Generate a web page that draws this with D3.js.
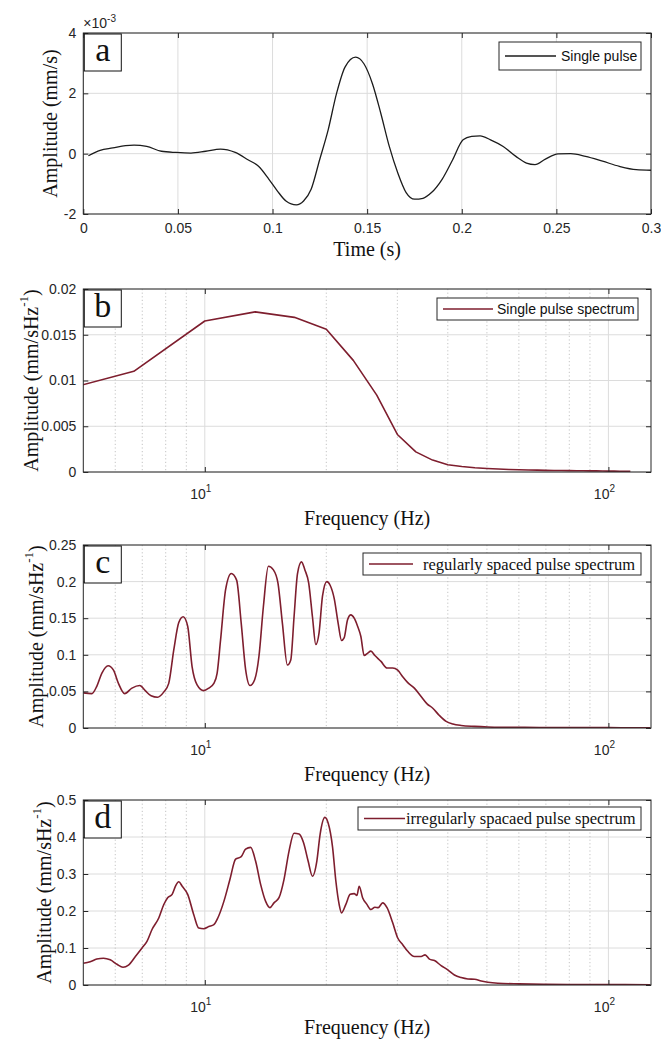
<!DOCTYPE html>
<html><head><meta charset="utf-8">
<script src="https://cdn.jsdelivr.net/npm/d3@7"></script>
<style>body{margin:0;background:#fff;overflow:hidden}</style>
</head><body>
<script>
// ---------------- DATA ----------------
const timeS=[0.0027,0.0089,0.0156,0.0223,0.0268,0.0335,0.0413,0.049,0.0569,0.0647,0.0725,0.0803,0.087,0.0926,0.0981,0.1026,0.1071,0.1126,0.1164,0.1204,0.1249,0.1294,0.1338,0.1383,0.1439,0.1483,0.1528,0.1572,0.1617,0.1662,0.1706,0.1751,0.1795,0.184,0.1896,0.1952,0.2007,0.2052,0.2097,0.2152,0.2219,0.2286,0.2342,0.2387,0.2442,0.2509,0.2576,0.2654,0.2744,0.2833,0.2922,0.3];
const pulseAmp=[-0.07,0.11,0.19,0.27,0.285,0.24,0.08,0.04,0.02,0.08,0.15,0.04,-0.2,-0.42,-0.85,-1.24,-1.57,-1.70,-1.57,-1.18,-0.2,0.79,1.99,2.87,3.2,2.98,2.32,1.34,0.24,-0.64,-1.29,-1.51,-1.48,-1.29,-0.85,-0.2,0.46,0.57,0.59,0.46,0.24,-0.09,-0.31,-0.36,-0.18,-0.01,0.0,-0.09,-0.25,-0.42,-0.53,-0.55];

const freqB=[3.33,6.67,10,13.33,16.67,20,23.33,26.67,30,33.33,36.67,40,43.33,46.67,50,53.33,56.67,60,63.33,66.67,70,73.33,76.67,80,83.33,86.67,90,93.33,96.67,100,103.33,106.67,110,113.33];
const ampB=[0.0075,0.0110,0.0165,0.0175,0.0169,0.0156,0.0122,0.0084,0.0041,0.0022,0.0013,0.0008,0.0006,0.00047,0.00038,0.00032,0.00028,0.00025,0.00022,0.0002,0.00018,0.00017,0.00016,0.00015,0.00014,0.00013,0.00012,0.00012,0.00011,0.0001,0.0001,0.00009,0.00009,0.00008];

const freqC=[5.0,5.25,5.40,5.56,5.76,5.94,6.11,6.33,6.60,6.90,7.12,7.36,7.64,7.91,8.14,8.38,8.62,8.84,9.07,9.30,9.57,9.94,10.23,10.53,10.73,10.94,11.26,11.63,11.99,12.31,12.62,12.94,13.29,13.62,13.97,14.37,14.79,15.18,15.57,16.02,16.33,16.64,16.97,17.36,17.70,18.09,18.48,18.84,19.19,19.57,20.06,20.44,20.92,21.40,21.82,22.14,22.58,23.01,23.45,23.91,24.36,24.82,25.31,25.79,26.39,27.32,28.28,29.21,30.06,30.93,31.83,33.05,34.35,35.54,36.72,38.13,39.62,41.18,43.17,46.58,50.28,54.26,62,70,80,90,100,110,127];
const ampC=[0.048,0.047,0.057,0.075,0.085,0.079,0.061,0.047,0.0545,0.058,0.051,0.044,0.042,0.049,0.061,0.107,0.144,0.152,0.139,0.084,0.059,0.051,0.0545,0.061,0.075,0.120,0.189,0.211,0.202,0.143,0.080,0.058,0.066,0.098,0.166,0.221,0.216,0.198,0.143,0.086,0.093,0.152,0.211,0.227,0.216,0.198,0.152,0.114,0.130,0.180,0.200,0.195,0.177,0.143,0.1195,0.123,0.148,0.1545,0.150,0.139,0.125,0.099,0.102,0.105,0.099,0.091,0.082,0.082,0.079,0.070,0.062,0.0545,0.043,0.033,0.027,0.017,0.009,0.0055,0.0035,0.0022,0.0014,0.0010,0.0008,0.0007,0.0006,0.0005,0.0005,0.0004,0.0004];

const freqD=[5.0,5.20,5.40,5.61,5.83,6.06,6.27,6.47,6.73,6.99,7.19,7.40,7.69,7.91,8.09,8.30,8.46,8.62,8.79,9.07,9.39,9.66,9.94,10.23,10.53,10.77,11.15,11.54,11.92,12.31,12.62,12.99,13.36,13.75,14.15,14.50,14.84,15.27,15.71,16.17,16.64,17.12,17.56,18.03,18.48,18.95,19.31,19.84,20.22,20.73,21.12,21.52,21.82,22.36,22.92,23.45,23.81,24.13,24.60,25.21,25.79,26.39,26.90,27.58,28.28,29.21,30.06,30.93,31.83,33.05,34.35,35.14,36.02,37.07,38.50,40.00,41.54,43.17,44.87,46.58,48.40,50.28,53.24,60,70,80,90,100,110,127];
const ampD=[0.059,0.063,0.070,0.0725,0.068,0.056,0.048,0.054,0.077,0.100,0.118,0.150,0.181,0.217,0.236,0.245,0.267,0.279,0.267,0.245,0.190,0.154,0.152,0.158,0.163,0.181,0.226,0.285,0.340,0.347,0.367,0.372,0.335,0.272,0.226,0.209,0.222,0.236,0.285,0.362,0.410,0.408,0.385,0.335,0.294,0.335,0.408,0.453,0.437,0.372,0.281,0.218,0.195,0.218,0.245,0.247,0.242,0.267,0.236,0.218,0.204,0.210,0.209,0.222,0.209,0.168,0.127,0.109,0.091,0.077,0.077,0.0815,0.070,0.066,0.0525,0.041,0.027,0.020,0.0163,0.0155,0.011,0.0073,0.0046,0.003,0.002,0.0015,0.0012,0.001,0.0009,0.0008];

const aXTicks=[0,0.05,0.1,0.15,0.2,0.25,0.3];
const aYTicks=[-2,0,2,4];
const bYTicks=[0,0.005,0.01,0.015,0.02];
const cYTicks=[0,0.05,0.1,0.15,0.2,0.25];
const dYTicks=[0,0.1,0.2,0.3,0.4,0.5];
const logMajorTicks=[10,100];
const logMinorTicks=[6,7,8,9,20,30,40,50,60,70,80,90];
const legendNames=["Single pulse","Single pulse spectrum","regularly spaced pulse spectrum","irregularly spacaed pulse spectrum"];
const panelLetters=["a","b","c","d"];

// ---------------- LAYOUT ----------------
const W=661,H=1040;
const L=83.3,R=651;
const SANS="'Liberation Sans', Arial, sans-serif";
const SERIF="'Liberation Serif', 'Times New Roman', serif";
const AX="#262626", RED="#7e1e2e";

const svg=d3.select("body").append("svg").attr("width",W).attr("height",H);
svg.append("rect").attr("width",W).attr("height",H).attr("fill","#fff");

const panels=[
 {top:33,bottom:214,log:false,xs:timeS,ys:pulseAmp,xd:[0,0.3],yd:[-2,4],yt:aYTicks,color:"#1c1c1c",lw:1.3,
  ytitleX:50,xtitleY:256,legend:{x0:499,x1:641,y0:42,y1:70,l0:505,l1:556,tx:561,font:SANS,fs:14},curve:d3.curveMonotoneX},
 {top:289,bottom:472,log:true,xs:freqB,ys:ampB,xd:[5,127.5],yd:[0,0.02],yt:bYTicks,color:RED,lw:1.6,
  ytitleX:31,xtitleY:525,legend:{x0:437,x1:638,y0:298,y1:320,l0:443,l1:493,tx:497,font:SANS,fs:14},curve:d3.curveLinear},
 {top:545,bottom:728,log:true,xs:freqC,ys:ampC,xd:[5,127.5],yd:[0,0.25],yt:cYTicks,color:RED,lw:1.6,
  ytitleX:36,xtitleY:781,legend:{x0:363,x1:641,y0:553,y1:575,l0:369,l1:413,tx:423,font:SERIF,fs:16.5},curve:d3.curveMonotoneX},
 {top:800,bottom:985,log:true,xs:freqD,ys:ampD,xd:[5,127.5],yd:[0,0.5],yt:dYTicks,color:RED,lw:1.6,
  ytitleX:44,xtitleY:1034,legend:{x0:358,x1:641,y0:807,y1:830,l0:364,l1:405,tx:406,font:SERIF,fs:16.5},curve:d3.curveMonotoneX}
];

panels.forEach((p,i)=>{
  const g=svg.append("g");
  const x=(p.log?d3.scaleLog():d3.scaleLinear()).domain(p.xd).range([L,R]);
  const y=d3.scaleLinear().domain(p.yd).range([p.bottom,p.top]);
  // grid
  const grid=g.append("g");
  grid.selectAll(".hy").data(p.yt).join("line")
    .attr("x1",L).attr("x2",R).attr("y1",d=>y(d)).attr("y2",d=>y(d))
    .attr("stroke","#dcdcdc").attr("stroke-width",1);
  const majorX=p.log?logMajorTicks:aXTicks;
  grid.selectAll(".vx").data(majorX).join("line")
    .attr("x1",d=>x(d)).attr("x2",d=>x(d)).attr("y1",p.top).attr("y2",p.bottom)
    .attr("stroke","#dcdcdc").attr("stroke-width",1);
  if(p.log){
    grid.selectAll(".mx").data(logMinorTicks).join("line")
      .attr("x1",d=>x(d)).attr("x2",d=>x(d)).attr("y1",p.top).attr("y2",p.bottom)
      .attr("stroke","#bdbdbd").attr("stroke-width",0.9).attr("stroke-dasharray","1.2,2.4");
  }
  // clip
  const cid="clip"+i;
  svg.append("clipPath").attr("id",cid).append("rect")
    .attr("x",L).attr("y",p.top).attr("width",R-L).attr("height",p.bottom-p.top);
  const line=d3.line().x(d=>x(d[0])).y(d=>y(d[1])).curve(p.curve);
  g.append("path").datum(p.xs.map((v,k)=>[v,p.ys[k]]))
    .attr("d",line).attr("fill","none").attr("stroke",p.color).attr("stroke-width",p.lw)
    .attr("stroke-linejoin","round").attr("clip-path",`url(#${cid})`);
  // axes (ticks inside)
  const bottomAx=d3.axisBottom(x).tickValues(majorX).tickSizeInner(-5).tickSizeOuter(0).tickPadding(9)
    .tickFormat(p.log?()=>"":d=>String(d));
  const topAx=d3.axisTop(x).tickValues(majorX).tickSizeInner(-5).tickSizeOuter(0).tickFormat(()=>"");
  const leftAx=d3.axisLeft(y).tickValues(p.yt).tickSizeInner(-5).tickSizeOuter(0).tickPadding(7)
    .tickFormat(d=>String(d));
  const rightAx=d3.axisRight(y).tickValues(p.yt).tickSizeInner(-5).tickSizeOuter(0).tickFormat(()=>"");
  const axs=[
    g.append("g").attr("transform",`translate(0,${p.bottom})`).call(bottomAx),
    g.append("g").attr("transform",`translate(0,${p.top})`).call(topAx),
    g.append("g").attr("transform",`translate(${L},0)`).call(leftAx),
    g.append("g").attr("transform",`translate(${R},0)`).call(rightAx)];
  axs.forEach(a=>{
    a.select(".domain").remove();
    a.selectAll("line").attr("stroke",AX);
    a.selectAll("text").attr("fill",AX).style("font-family",SANS).style("font-size","14px");
  });
  if(p.log){
    const lab=g.append("g");
    logMajorTicks.forEach(v=>{
      const t=lab.append("text").attr("x",x(v)-4).attr("y",p.bottom+27)
        .attr("text-anchor","middle").attr("fill",AX).style("font-family",SANS).style("font-size","14px");
      t.append("tspan").text("10");
      t.append("tspan").attr("dy",-7).style("font-size","10px").text(String(Math.round(Math.log10(v))));
    });
  }
  // box
  g.append("rect").attr("x",L).attr("y",p.top).attr("width",R-L).attr("height",p.bottom-p.top)
    .attr("fill","none").attr("stroke",AX).attr("stroke-width",1);
  // legend
  const lg=p.legend;
  g.append("rect").attr("x",lg.x0).attr("y",lg.y0).attr("width",lg.x1-lg.x0).attr("height",lg.y1-lg.y0)
    .attr("fill","#fff").attr("stroke",AX).attr("stroke-width",1);
  const ly=(lg.y0+lg.y1)/2;
  g.append("line").attr("x1",lg.l0).attr("x2",lg.l1).attr("y1",ly).attr("y2",ly)
    .attr("stroke",p.color).attr("stroke-width",p.lw);
  g.append("text").attr("x",lg.tx).attr("y",ly).attr("dominant-baseline","central")
    .attr("fill","#111").style("font-family",lg.font).style("font-size",lg.fs+"px").text(legendNames[i]);
  // letter box
  g.append("rect").attr("x",L+1).attr("y",p.top+1).attr("width",37).attr("height",37)
    .attr("fill","#fff").attr("stroke","#111").attr("stroke-width",1);
  g.append("text").attr("x",L+1+18.5).attr("y",p.top+1+27).attr("text-anchor","middle")
    .attr("fill","#111").style("font-family",SERIF).style("font-size","34px").text(panelLetters[i]);
  // y title
  const cy=(p.top+p.bottom)/2;
  const yt=g.append("text").attr("transform",`translate(${p.ytitleX},${cy}) rotate(-90)`)
    .attr("text-anchor","middle").attr("dominant-baseline","central").attr("fill","#111")
    .style("font-family",SERIF).style("font-size","20px");
  if(i===0){ yt.text("Amplitude (mm/s)"); }
  else {
    yt.append("tspan").text("Amplitude (mm/sHz");
    yt.append("tspan").attr("dy",-8).style("font-size","13px").text("-1");
    yt.append("tspan").attr("dy",8).text(")");
  }
  // x title
  g.append("text").attr("x",(L+R)/2).attr("y",p.xtitleY)
    .attr("text-anchor","middle").attr("fill","#111")
    .style("font-family",SERIF).style("font-size","20px").text(i===0?"Time (s)":"Frequency (Hz)");
});

// exponent label for panel a
const ex=svg.append("text").attr("x",L).attr("y",28).attr("fill",AX)
  .style("font-family",SANS).style("font-size","14px");
ex.append("tspan").text("\u00d710");
ex.append("tspan").attr("dy",-6).style("font-size","10px").text("-3");
</script>
</body></html>
